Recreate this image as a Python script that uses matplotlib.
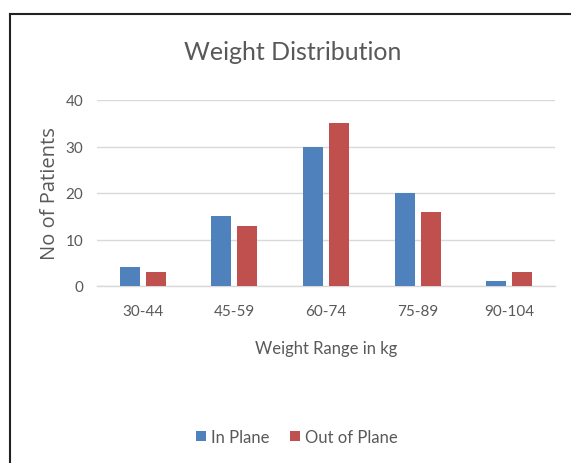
import matplotlib
matplotlib.use("Agg")
import matplotlib.pyplot as plt
from matplotlib.lines import Line2D
import numpy as np

categories = ["30-44", "45-59", "60-74", "75-89", "90-104"]
in_plane = [4, 15, 30, 20, 1]
out_of_plane = [3, 13, 35, 16, 3]
y_ticks = [0, 10, 20, 30, 40]

BLUE = "#4F81BD"
RED = "#C0504D"
TEXT = "#595959"
GRID = "#D9D9D9"

plt.rcParams["font.family"] = ["Lato", "DejaVu Sans"]

fig = plt.figure(figsize=(5.71, 4.64), dpi=100)
ax = fig.add_axes([97 / 571, 1 - 287 / 464, 458 / 571, 186 / 464])

x = np.arange(len(categories))
w = 0.218
off = 0.142
ax.bar(x - off, in_plane, width=w, color=BLUE, label="In Plane", zorder=3)
ax.bar(x + off, out_of_plane, width=w, color=RED, label="Out of Plane", zorder=3)

ax.set_xlim(-0.5, len(categories) - 0.5)
ax.set_ylim(0, 40)
ax.set_yticks(y_ticks)
ax.set_xticks(x)
ax.set_xticklabels(categories)
ax.tick_params(axis="both", length=0, colors=TEXT, labelsize=11)
ax.tick_params(axis="y", pad=10)
ax.tick_params(axis="x", pad=13)
ax.yaxis.grid(True, color=GRID, linewidth=1.0, zorder=0)
for side in ("top", "right", "left"):
    ax.spines[side].set_visible(False)
ax.spines["bottom"].set_color(GRID)
ax.spines["bottom"].set_linewidth(1.0)

ax.set_xlabel("Weight Range in kg", color=TEXT, fontsize=12, labelpad=16)
ax.set_ylabel("No of Patients", color=TEXT, fontsize=14.5, family=["Open Sans"],
              labelpad=4)

fig.text(293 / 571, 1 - 53 / 464, "Weight Distribution", ha="center", va="center",
         color=TEXT, fontsize=18)

leg = fig.legend(loc="center", bbox_to_anchor=(297 / 571, 1 - 438 / 464), ncol=2,
                 frameon=False, fontsize=12, handlelength=0.6, handleheight=0.6,
                 handletextpad=0.3, columnspacing=1.2)
for t in leg.get_texts():
    t.set_color(TEXT)

# outer frame
fig.add_artist(Line2D([10 / 571, 1.0], [1 - 14.5 / 464, 1 - 14.5 / 464],
                      transform=fig.transFigure, color="#222222", linewidth=1.5))
fig.add_artist(Line2D([10 / 571, 10 / 571], [0, 1 - 14.5 / 464],
                      transform=fig.transFigure, color="#222222", linewidth=1.5))

fig.savefig("out.png", dpi=100, facecolor="white")
